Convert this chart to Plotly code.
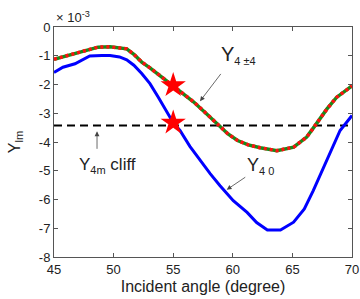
import plotly.graph_objects as go

# Data (y values in units of 1e-3)
angle_y40 = [45.0, 45.75, 46.76, 48.0, 49.0, 49.7, 50.5, 51.1, 51.7, 52.36, 53.05, 53.75, 55.0, 55.57,
             56.4, 57.25, 58.1, 58.93, 60.04, 61.2, 62.0, 62.9, 64.0, 65.1, 66.0, 66.75, 67.5, 68.3, 69.0, 70.0]
y40 = [-1.58, -1.40, -1.28, -1.01, -0.99, -0.99, -1.04, -1.14, -1.33, -1.62, -1.97, -2.44, -3.33, -3.60,
       -4.15, -4.64, -5.10, -5.52, -6.04, -6.45, -6.80, -7.06, -7.06, -6.79, -6.33, -5.69, -4.99, -4.30, -3.60, -3.08]

angle_y44 = [45.0, 46.0, 46.76, 47.7, 48.7, 49.7, 50.7, 51.1, 51.7, 52.36, 53.05, 53.8, 54.6, 55.0,
             55.8, 56.7, 57.7, 58.8, 59.6, 60.4, 61.3, 62.3, 63.7, 65.1, 66.2, 66.9, 67.9, 68.7, 70.0]
y44 = [-1.12, -1.00, -0.91, -0.80, -0.70, -0.69, -0.72, -0.76, -0.95, -1.22, -1.42, -1.66, -1.92, -2.03,
       -2.30, -2.60, -2.98, -3.43, -3.72, -3.95, -4.10, -4.20, -4.30, -4.18, -3.83, -3.43, -2.85, -2.45, -2.05]

cliff_x = [45, 70]
cliff_y = [-3.43, -3.43]

star_x = [55, 55]
star_y = [-2.03, -3.33]

x_ticks = [45, 50, 55, 60, 65, 70]
x_labels = ["45", "50", "55", "60", "65", "70"]
y_ticks = [0, -1, -2, -3, -4, -5, -6, -7, -8]
y_labels = ["0", "-1", "-2", "-3", "-4", "-5", "-6", "-7", "-8"]

FONT = "Liberation Sans, Arial, sans-serif"

fig = go.Figure()
fig.add_trace(go.Scatter(x=cliff_x, y=cliff_y, mode="lines",
                         line=dict(color="black", width=2, dash="8px,5px"), hoverinfo="skip"))
fig.add_trace(go.Scatter(x=angle_y40, y=y40, mode="lines",
                         line=dict(color="#0000ff", width=3), hoverinfo="skip"))
fig.add_trace(go.Scatter(x=angle_y44, y=y44, mode="lines",
                         line=dict(color="#1a8a1a", width=3.5), hoverinfo="skip"))
fig.add_trace(go.Scatter(x=angle_y44, y=y44, mode="lines",
                         line=dict(color="#ff1010", width=3.5, dash="3px,3px"), hoverinfo="skip"))
fig.add_trace(go.Scatter(x=star_x, y=star_y, mode="markers",
                         marker=dict(symbol="star", size=19, color="#ff0000", line=dict(width=0)),
                         hoverinfo="skip"))

axis_common = dict(showgrid=False, zeroline=False, showline=True, linecolor="#555", linewidth=1,
                   mirror="ticks", ticks="inside", ticklen=4, tickcolor="#555", automargin=False,
                   ticklabeloverflow="allow",
                   tickfont=dict(family=FONT, size=13, color="#222"))

fig.update_xaxes(range=[45, 70], tickvals=x_ticks, ticktext=x_labels,
                 title=dict(text="Incident angle (degree)", font=dict(family=FONT, size=16, color="#222"),
                            standoff=5), **axis_common)
fig.update_yaxes(range=[-8, 0], tickvals=y_ticks, ticktext=y_labels,
                 title=dict(text="Y<sub>lm</sub>", font=dict(family=FONT, size=16, color="#222"),
                            standoff=14), **axis_common)

arrow = dict(showarrow=True, arrowhead=2, arrowsize=1.2, arrowwidth=0.8, arrowcolor="#444",
             xref="x", yref="y", axref="x", ayref="y", text="")
anns = [
    dict(x=57.25, y=-2.58, ax=59.09, ay=-1.58, **arrow),
    dict(x=59.49, y=-5.66, ax=61.17, ay=-5.19, **arrow),
    dict(x=48.61, y=-3.63, ax=48.61, ay=-4.29, **arrow),
    dict(x=58.85, y=-0.97, xref="x", yref="y", xanchor="left", yanchor="middle", showarrow=False,
         text='Y<sub><span style="font-size:11px">4 ±4</span></sub>',
         font=dict(family=FONT, size=20, color="#222")),
    dict(x=61.05, y=-4.83, xref="x", yref="y", xanchor="left", yanchor="middle", showarrow=False,
         text='Y<sub><span style="font-size:11px">4 0</span></sub>',
         font=dict(family=FONT, size=18, color="#222")),
    dict(x=46.95, y=-4.81, xref="x", yref="y", xanchor="left", yanchor="middle", showarrow=False,
         text='Y<sub><span style="font-size:11px">4m</span></sub> cliff',
         font=dict(family=FONT, size=17, color="#222")),
    dict(x=0, y=1.045, xref="paper", yref="paper", xanchor="left", yanchor="middle", showarrow=False,
         text="× 10<sup>-3</sup>", font=dict(family=FONT, size=13, color="#222")),
]
fig.update_layout(width=360, height=299, margin=dict(l=54, r=8, t=27, b=42),
                  paper_bgcolor="white", plot_bgcolor="white", showlegend=False,
                  annotations=anns)

# Remove the page's default body margin so the 360x299 figure fills the window exactly.
fig.write_html("out.html", config={"displayModeBar": False},
               post_script="document.body.style.margin='0';")
